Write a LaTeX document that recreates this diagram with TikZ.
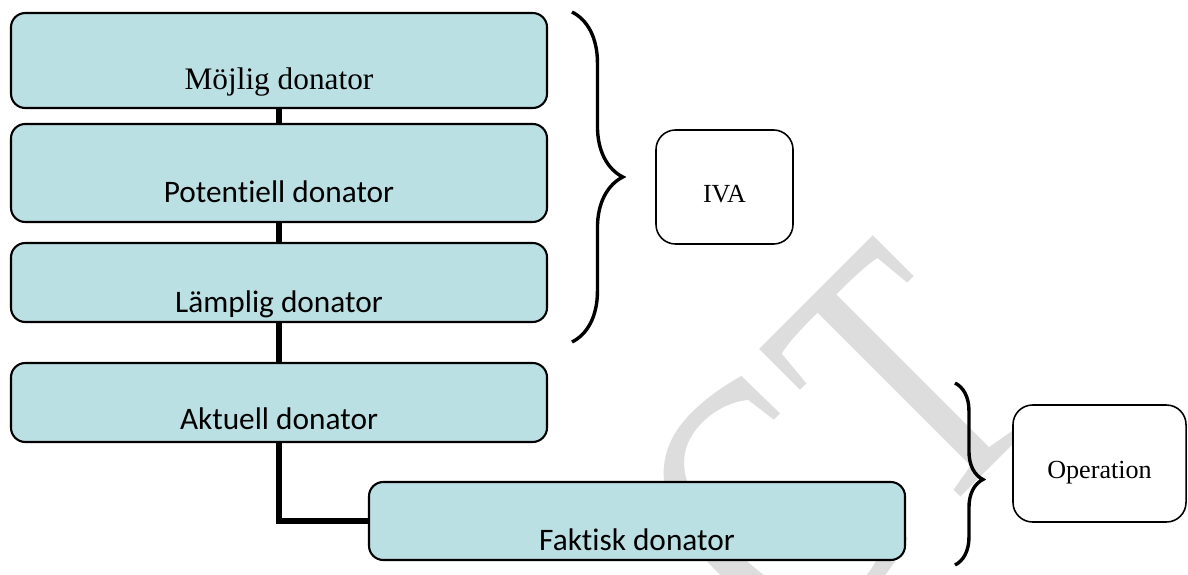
\documentclass[tikz,border=0pt]{standalone}
\usepackage{fontspec}
\setmainfont{Liberation Serif}
\newfontfamily\calibri[Ligatures=NoCommon]{Carlito}
\usepackage{xcolor}
\usepackage{tikz}
\usetikzlibrary{decorations.pathreplacing}

\definecolor{donorfill}{RGB}{187,224,227}
\definecolor{stampgray}{RGB}{221,221,221}

\begin{document}
\begin{tikzpicture}[x=0.3832pt,y=-0.3832pt,
donor/.style={draw,line width=0.8pt,fill=donorfill,rounded corners=5.5pt,minimum width=205.4pt,inner sep=0pt,font=\calibri\fontsize{12}{14}\selectfont},
phase/.style={draw,fill=white,line width=0.6pt,rounded corners=7.5pt,inner sep=0pt,font=\fontsize{10}{12}\selectfont},
link/.style={line width=2.2pt},
grp/.style={decorate,line width=1.3pt,decoration={brace,amplitude=#1}},
stamp/.style={text=stampgray,inner sep=0pt,anchor=base,rotate=45,yscale=1.35,font=\fontsize{107}{107}\selectfont}]
\useasboundingbox (0,0) rectangle (1188,574);

% watermark behind everything
\node[stamp] (markC) at (859,599) {C};
\node[stamp] (markT) at (990.5,467.5) {T};

\node[donor,font=\fontsize{12}{14}\selectfont,text height=29.5pt,text depth=6.9pt] (moejlig) at (279,60.5) {Möjlig donator};
\node[donor,text height=29.9pt,text depth=7.66pt] (potentiell) at (279,173) {Potentiell donator};
\node[donor,text height=26.44pt,text depth=3.83pt] (laemplig) at (279,282.5) {Lämplig donator};
\node[donor,text height=25.67pt,text depth=4.6pt] (aktuell) at (279,402.5) {Aktuell donator};
\node[donor,text height=26.06pt,text depth=3.83pt] (faktisk) at (637,521) {Faktisk donator};

\node[phase,minimum width=52.5pt,text height=27.6pt,text depth=16.1pt] (iva) at (724.5,187) {IVA};
\node[phase,minimum width=66.3pt,text height=27.97pt,text depth=16.86pt] (operation) at (1099.5,463.5) {Operation};

\draw[link] (moejlig) -- (potentiell);
\draw[link] (potentiell) -- (laemplig);
\draw[link] (laemplig) -- (aktuell);
\draw[link] (aktuell.south) |- (faktisk.west);

% braces
\coordinate (ivaTop) at (572,12);
\coordinate (ivaBot) at (572,342);
\coordinate (opTop) at (955,383);
\coordinate (opBot) at (955,565);
\draw[grp=19.5pt] (ivaTop) -- (ivaBot);
\draw[grp=10.7pt,decoration={aspect=0.53}] (opTop) -- (opBot);
\end{tikzpicture}
\end{document}
